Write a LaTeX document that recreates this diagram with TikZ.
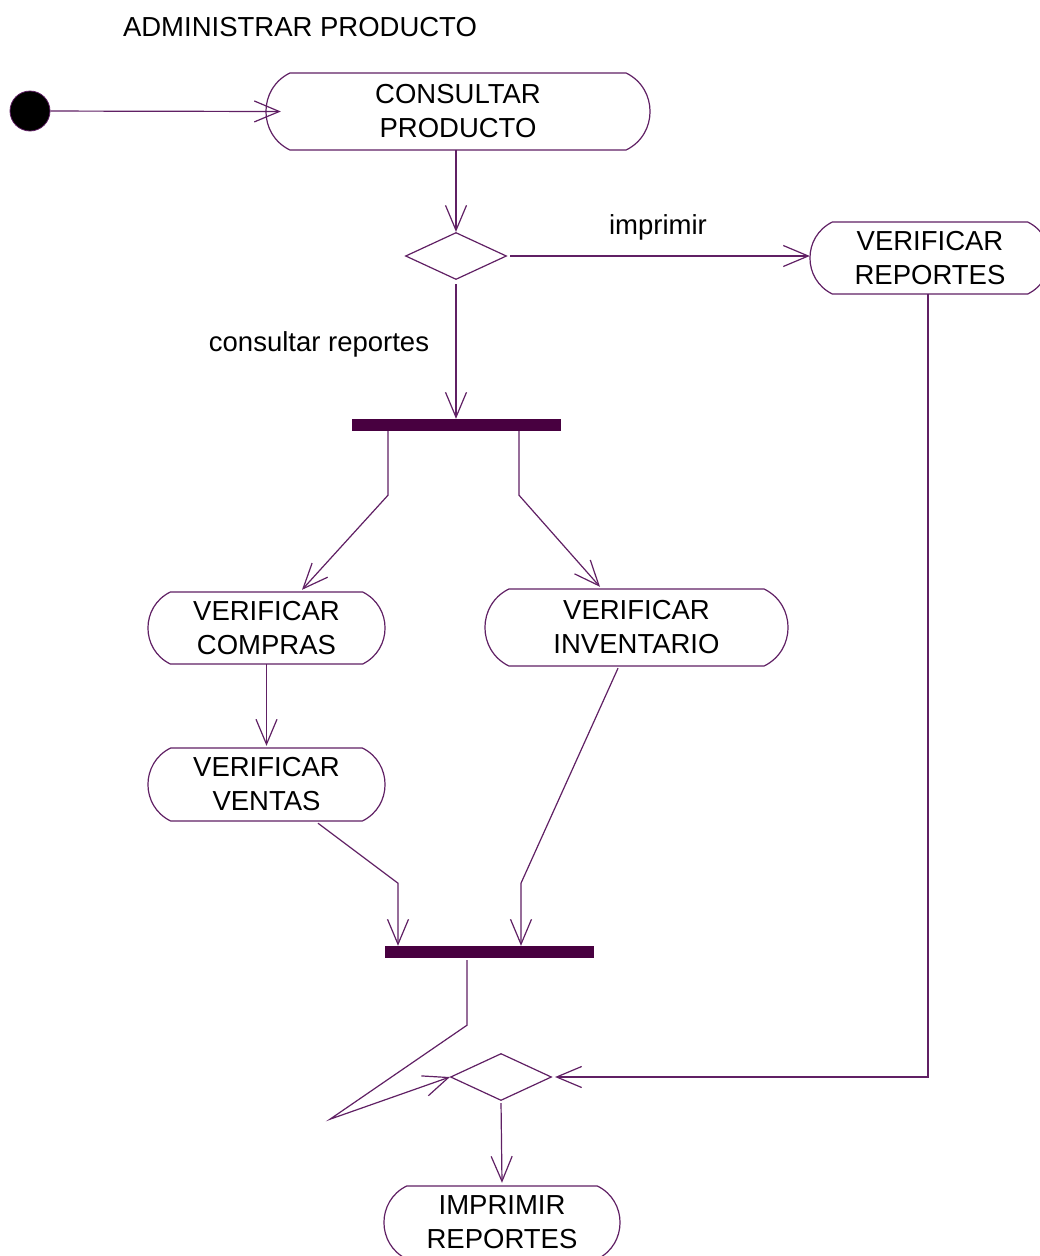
\documentclass[tikz,border=0pt]{standalone}
\usepackage{fontspec}
\setmainfont{Liberation Sans}
\usetikzlibrary{arrows.meta,shapes.geometric}
\definecolor{edge}{RGB}{96,32,100}
\definecolor{barfill}{RGB}{72,0,64}

% Activity: flat top and bottom, arc-shaped ends.
% #1 name, #2 left x, #3 right x, #4 top y, #5 bottom y, #6 text
\newcommand\actbox[6]{%
  \pgfmathsetmacro\ah{#5-#4}%
  \pgfmathsetmacro\ab{0.31*\ah}%
  \pgfmathsetmacro\akx{0.414*\ah}%
  \pgfmathsetmacro\aky{0.204*\ah}%
  \draw[actline, fill=white] ({#2+\ab},#4) -- ({#3-\ab},#4)
     .. controls +(\akx,\aky) and +(\akx,-\aky) .. ({#3-\ab},#5)
     -- ({#2+\ab},#5)
     .. controls +(-\akx,-\aky) and +(-\akx,\aky) .. ({#2+\ab},#4) -- cycle;
  \node[acttext, minimum width={#3-#2}, minimum height=\ah] (#1)
     at ({(#2+#3)/2},{(#4+#5)/2}) {#6};
}

\begin{document}
\begin{tikzpicture}[x=1pt,y=-1pt,
  every node/.style={font=\fontsize{27.5}{34}\selectfont},
  actline/.style={draw=edge, line width=1.2pt},
  acttext/.style={inner sep=0pt, align=center, text=black},
  flow/.style={draw=edge, line width=1.2pt, -{Straight Barb[length=25pt,width=21pt]}},
  plain/.style={draw=edge, line width=1.2pt},
  decision/.style={diamond, draw=edge, line width=1.2pt, inner sep=0pt,
                   minimum width=101pt, minimum height=47pt},
  syncbar/.style={rectangle, fill=barfill, draw=none, inner sep=0pt,
                  minimum width=209pt, minimum height=12pt},
  lbl/.style={inner sep=0pt, text=black},
  startnode/.style={circle, fill=black, draw=edge, line width=0.8pt,
                    minimum size=40pt, inner sep=0pt}
]
\useasboundingbox (0,0) rectangle (1040,1256);
\fill[white] (0,0) rectangle (1040,1256);
\clip (0,0) rectangle (1040,1256);

% title
\node[lbl] (title) at (300,27) {ADMINISTRAR PRODUCTO};

% start
\node[startnode] (init) at (30,111) {};

% activities
\actbox{cp}{266}{650}{73}{150}{CONSULTAR\\PRODUCTO}
\actbox{vr}{810}{1050}{222}{294}{VERIFICAR\\REPORTES}
\actbox{vc}{148}{385}{592}{664}{VERIFICAR\\COMPRAS}
\actbox{vi}{485}{788}{589}{666}{VERIFICAR\\INVENTARIO}
\actbox{vv}{148}{385}{748}{821}{VERIFICAR\\VENTAS}
\actbox{ip}{384}{620}{1186}{1259}{IMPRIMIR\\REPORTES}

% decisions
\node[decision] (d1) at (456,256) {};
\node[decision] (d2) at (501,1077) {};

% synchronisation bars
\node[syncbar] (bar1) at (456.5,425) {};
\node[syncbar] (bar2) at (489.5,952) {};

% guard labels
\node[lbl] (limp) at (658,227) {imprimir};
\node[lbl] (lcons) at (319,344) {consultar reportes};

% flows
\draw[flow] (init) -- ([xshift=15pt]cp.west);
\draw[flow] (d1.north |- cp.south) -- (d1.north);
\draw[flow, shorten <=3pt] (d1.east) -- (vr.west |- d1.east);
\draw[flow, shorten <=4pt] (d1.south) -- (d1.south |- bar1.north);

\draw[flow] ([xshift=-68.5pt]bar1.south) -- ++(0,64) -- ([xshift=35.5pt,yshift=2pt]vc.north);
\draw[flow] ([xshift=62.5pt]bar1.south) -- ++(0,64) -- ([xshift=-36.5pt,yshift=2pt]vi.north);

\draw[flow] (vc.south) -- ([yshift=2pt]vv.north);
\draw[flow] ([xshift=51.5pt,yshift=-2pt]vv.south) -- ++(80,60) -- ([xshift=-91.5pt]bar2.north);
\draw[flow] ([xshift=-18.5pt,yshift=-2pt]vi.south) -- ++(-97,215) -- ([xshift=31.5pt]bar2.north);

\draw[flow] ([xshift=-22.5pt,yshift=-2pt]bar2.south) -- ++(0,65) -- ++(-137,94) -- (d2.west);
\draw[flow] ([xshift=-2pt]vr.south) -- ([xshift=-2pt]vr.south |- d2.east) -- ([xshift=3pt]d2.east);
\draw[flow, shorten <=2pt] (d2.south) -- ([yshift=3pt]ip.north);
\end{tikzpicture}
\end{document}
